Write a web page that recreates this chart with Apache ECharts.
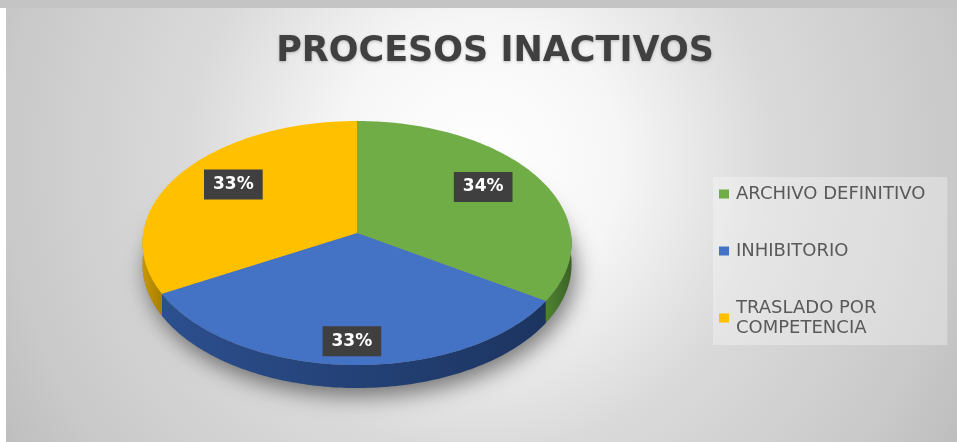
<!DOCTYPE html>
<html>
<head>
<meta charset="utf-8">
<script src="https://cdn.jsdelivr.net/npm/echarts@6/dist/echarts.min.js"></script>
<style>
html,body{margin:0;padding:0;background:#fff;}
#chart{width:957px;height:442px;}
</style>
</head>
<body>
<div id="chart"></div>
<script>
// ---- data ----
const chartTitle = 'PROCESOS INACTIVOS';
const categories = ['ARCHIVO DEFINITIVO', 'INHIBITORIO', 'TRASLADO POR COMPETENCIA'];
const values = [34, 33, 33];

// ---- styles ----
const topColors = ['#70AD47', '#4472C4', '#FFC000'];
const sideColors = [['#4E8232', '#3B6325'], ['#2C4F8E', '#1C3460'], ['#C99800', '#A77F00']];
// perspective disc: centre, half-axes, perspective strength, wall depth
const GEO = { cx: 357, cy: 233, a: 213.8, b: 121.2, k: 0.082, depth: 21.1 };

const total = values.reduce((a, b) => a + b, 0);

function proj(theta, r, dyScale) {
  const u = Math.sin(theta) * r, w = -Math.cos(theta) * r;
  const s = 1 / (1 - GEO.k * w);
  return [GEO.cx + GEO.a * u * s, GEO.cy + GEO.b * w * s + (dyScale ? GEO.depth * s : 0)];
}
function arc(a0, a1, down) {
  const pts = [];
  const n = Math.max(2, Math.ceil(Math.abs(a1 - a0) / (Math.PI / 180)));
  for (let k = 0; k <= n; k++) pts.push(proj(a0 + (a1 - a0) * k / n, 1, down));
  return pts;
}

function renderSlice(params, api) {
  const i = params.seriesIndex;
  let start = 0;
  for (let k = 0; k < i; k++) start += values[k];
  const v = api.value(0);
  const a0 = start / total * 2 * Math.PI;
  const a1 = (start + v) / total * 2 * Math.PI;
  const children = [];

  if (i === 0) {
    children.push({
      type: 'polygon',
      shape: { points: arc(0, 2 * Math.PI, true) },
      style: { fill: '#8a8a8a', shadowBlur: 22, shadowColor: 'rgba(0,0,0,0.5)', shadowOffsetY: 8, shadowOffsetX: 4 },
      z2: 0
    });
  }
  const s0 = Math.max(a0, Math.PI / 2), s1 = Math.min(a1, 3 * Math.PI / 2);
  if (s1 > s0) {
    children.push({
      type: 'polygon',
      shape: { points: arc(s0, s1, false).concat(arc(s1, s0, true)) },
      style: {
        fill: { type: 'linear', x: 0, y: 0, x2: 1, y2: 0, colorStops: [
          { offset: 0, color: sideColors[i][0] }, { offset: 1, color: sideColors[i][1] }] }
      },
      z2: 1
    });
  }
  children.push({
    type: 'polygon',
    shape: { points: [proj(0, 0, false)].concat(arc(a0, a1, false)) },
    style: { fill: topColors[i] },
    z2: 2
  });
  const m = (a0 + a1) / 2;
  const u = Math.sin(m), w = -Math.cos(m);
  const s = 1 / (1 - GEO.k * w);
  children.push({
    type: 'text',
    x: GEO.cx + GEO.a * 0.7 * u * s,
    y: GEO.cy + GEO.b * 0.82 * w * s,
    style: {
      text: Math.round(v / total * 100) + '%',
      fill: '#ffffff',
      font: 'bold 17px "DejaVu Sans"',
      align: 'center',
      verticalAlign: 'middle',
      backgroundColor: '#3f3f3f',
      padding: [7, 9, 6, 9],
      boxShadowBlur: 4,
      boxShadowColor: 'rgba(0,0,0,0.45)',
      boxShadowOffsetX: 2,
      boxShadowOffsetY: 2
    },
    z2: 5
  });
  return { type: 'group', children: children };
}

function wrapName(name) {
  if (name.length <= 19) return name;
  const idx = name.lastIndexOf(' ', 14);
  return idx > 0 ? name.slice(0, idx) + '\n' + name.slice(idx + 1) : name;
}

const chart = echarts.init(document.getElementById('chart'), null, { renderer: 'canvas' });
chart.setOption({
  backgroundColor: '#ffffff',
  animation: false,
  graphic: [
    { type: 'rect', z: -10, shape: { x: 0, y: 0, width: 957, height: 8 }, style: { fill: '#c4c4c4' } },
    { type: 'rect', z: -10, shape: { x: 6, y: 8, width: 951, height: 434 },
      style: { fill: { type: 'radial', x: 480, y: 160, r: 560, global: true, colorStops: [
        { offset: 0, color: '#ffffff' },
        { offset: 0.25, color: '#f6f6f6' },
        { offset: 0.52, color: '#dadada' },
        { offset: 0.85, color: '#c9c9c9' },
        { offset: 1, color: '#bdbdbd' }] } } }
  ],
  title: {
    text: chartTitle,
    left: 490,
    textAlign: 'center',
    top: 29,
    textStyle: {
      fontFamily: 'DejaVu Sans',
      fontWeight: 'bold',
      fontSize: 35,
      color: '#404040',
      textShadowColor: 'rgba(0,0,0,0.25)',
      textShadowBlur: 3,
      textShadowOffsetY: 1
    }
  },
  legend: {
    orient: 'vertical',
    left: 713,
    top: 177,
    padding: [7, 22, 7, 6],
    backgroundColor: 'rgba(255,255,255,0.3)',
    itemGap: 37,
    icon: 'rect',
    itemWidth: 10,
    itemHeight: 9,
    data: categories,
    formatter: wrapName,
    textStyle: { fontFamily: 'DejaVu Sans', fontSize: 18, color: '#595959', lineHeight: 20, padding: [0, 0, 0, 2] }
  },
  series: categories.map((name, i) => ({
    type: 'custom',
    name: name,
    coordinateSystem: 'none',
    itemStyle: { color: topColors[i] },
    data: [[values[i]]],
    renderItem: renderSlice
  }))
});
</script>
</body>
</html>
